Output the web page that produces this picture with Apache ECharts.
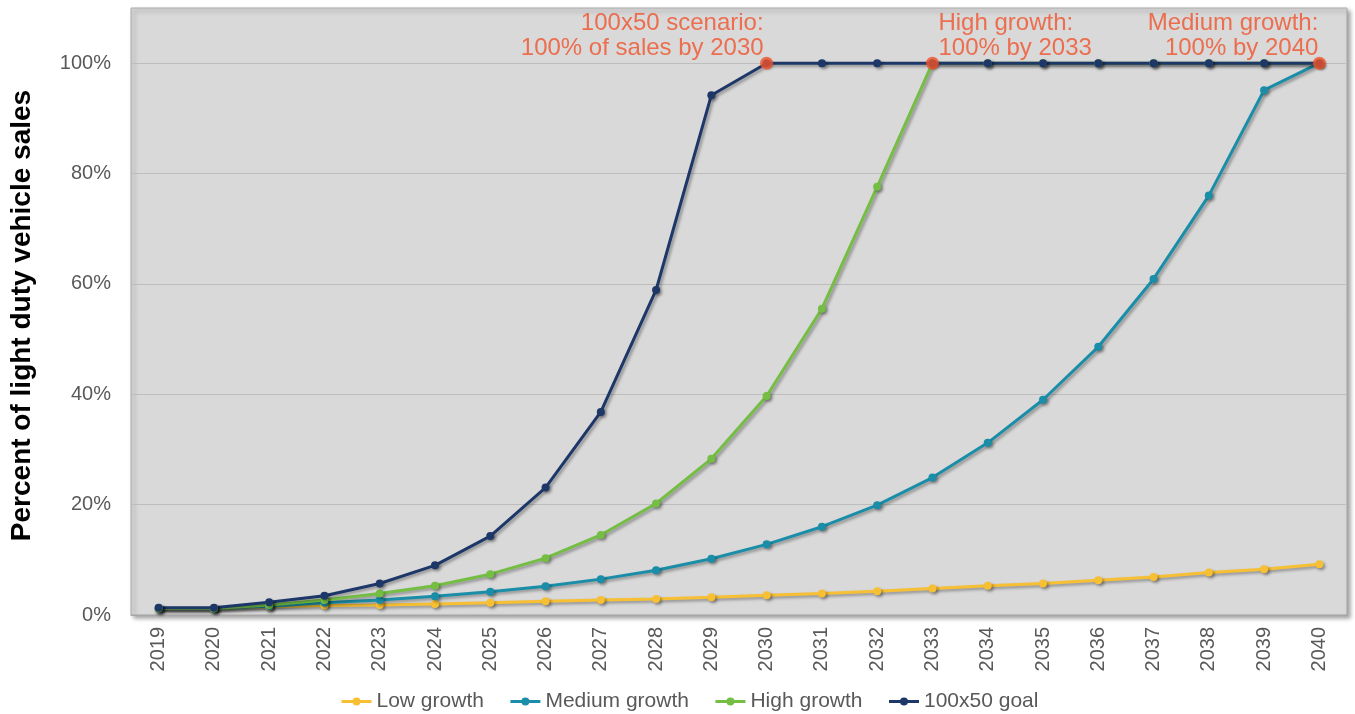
<!DOCTYPE html>
<html>
<head>
<meta charset="utf-8">
<script src="https://cdn.jsdelivr.net/npm/echarts@6/dist/echarts.min.js"></script>
<style>
  html, body { margin: 0; padding: 0; background: #ffffff; }
  #chart { width: 1355px; height: 714px; }
</style>
</head>
<body>
<div id="chart"></div>
<script>
// Share of light duty vehicle sales (%) by year, per scenario
const years = ['2019','2020','2021','2022','2023','2024','2025','2026','2027','2028','2029',
               '2030','2031','2032','2033','2034','2035','2036','2037','2038','2039','2040'];
const lowGrowth = [1.2,1.2,1.5,1.7,1.8,2.0,2.2,2.5,2.7,2.9,3.2,3.6,3.9,4.3,4.8,5.3,5.7,6.3,6.9,7.7,8.3,9.2];
const mediumGrowth = [1.2,1.2,1.6,2.2,2.7,3.4,4.2,5.2,6.5,8.1,10.2,12.8,16.0,19.9,24.9,31.2,39.0,48.6,60.9,76.0,95.1,100];
const highGrowth = [1.2,1.2,1.8,2.7,3.9,5.3,7.4,10.3,14.5,20.2,28.3,39.7,55.5,77.6,100,100,100,100,100,100,100,100];
const goal100x50 = [1.3,1.3,2.3,3.5,5.7,9.0,14.3,23.1,36.8,58.9,94.2,100,100,100,100,100,100,100,100,100,100,100];
const seriesNames = ['Low growth','Medium growth','High growth','100x50 goal'];
const yTicks = [0,20,40,60,80,100];

// Milestones: the year each scenario first hits 100%
const milestoneText = [
  '100x50 scenario:\n100% of sales by 2030',
  'High growth:\n100% by 2033',
  'Medium growth:\n100% by 2040'
];
const milestoneSource = [goal100x50, highGrowth, mediumGrowth];

const colors = ['#F7C034', '#1A8EA8', '#74BE43', '#1D3768'];
const accent = '#F0532B';
const font = '"Liberation Sans", Arial, sans-serif';

const lineShadow = {
  shadowColor: 'rgba(0,0,0,0.35)', shadowBlur: 3, shadowOffsetX: 2, shadowOffsetY: 2
};

function lineSeries(name, data, color) {
  return {
    name: name, type: 'line', data: data,
    symbol: 'circle', symbolSize: 8,
    itemStyle: Object.assign({ color: color }, lineShadow),
    lineStyle: Object.assign({ width: 3, color: color }, lineShadow),
    z: 3
  };
}

// label placement for each milestone annotation
const milestoneLabel = [
  { align: 'right', offset: [-3, 9] },
  { align: 'left', offset: [6, 9] },
  { align: 'right', offset: [-1, 9] }
];

const milestones = milestoneSource.map(function (arr, i) {
  const idx = arr.indexOf(100);
  return {
    value: [years[idx], arr[idx]],
    label: {
      show: true, position: 'top', formatter: milestoneText[i],
      align: milestoneLabel[i].align, offset: milestoneLabel[i].offset,
      color: accent, fontSize: 24, lineHeight: 25, fontFamily: font
    }
  };
});

const chart = echarts.init(document.getElementById('chart'), null, { renderer: 'canvas' });
chart.setOption({
  animation: false,
  backgroundColor: '#ffffff',
  textStyle: { fontFamily: font },
  grid: {
    left: 131, right: 8, top: 8, bottom: 99,
    show: true, backgroundColor: '#D9D9D9',
    borderColor: '#A6A6A6', borderWidth: 1,
    shadowColor: 'rgba(0,0,0,0.35)', shadowBlur: 4, shadowOffsetX: 3, shadowOffsetY: 3
  },
  legend: {
    data: seriesNames, left: 335, top: 686,
    itemWidth: 30, itemHeight: 10, itemGap: 25,
    lineStyle: { width: 3 },
    textStyle: { fontSize: 21, color: '#595959', fontFamily: font }
  },
  xAxis: {
    type: 'category', data: years, boundaryGap: true,
    axisLine: { show: true, lineStyle: { color: '#A6A6A6' } },
    axisTick: { show: false },
    axisLabel: { rotate: 90, fontSize: 20, color: '#595959', margin: 12, fontFamily: font },
    splitLine: { show: false }
  },
  yAxis: {
    type: 'value', min: 0, max: 110, interval: 20,
    name: 'Percent of light duty vehicle sales',
    nameLocation: 'middle', nameGap: 95,
    nameTextStyle: {
      fontSize: 28, fontWeight: 'bold', color: '#000000', fontFamily: font,
      padding: [0, 8, 0, 0]
    },
    axisLine: { show: false }, axisTick: { show: false },
    axisLabel: {
      fontSize: 20, color: '#595959', margin: 20, fontFamily: font,
      formatter: function (v) { return yTicks.indexOf(v) >= 0 ? v + '%' : ''; }
    },
    splitLine: { lineStyle: { color: '#BDBDBD', width: 1 } }
  },
  series: [
    lineSeries(seriesNames[0], lowGrowth, colors[0]),
    lineSeries(seriesNames[1], mediumGrowth, colors[1]),
    lineSeries(seriesNames[2], highGrowth, colors[2]),
    lineSeries(seriesNames[3], goal100x50, colors[3]),
    {
      name: 'milestones', type: 'scatter', data: milestones,
      symbol: 'circle', symbolSize: 13,
      itemStyle: { color: accent },
      z: 10
    }
  ]
});
</script>
</body>
</html>
